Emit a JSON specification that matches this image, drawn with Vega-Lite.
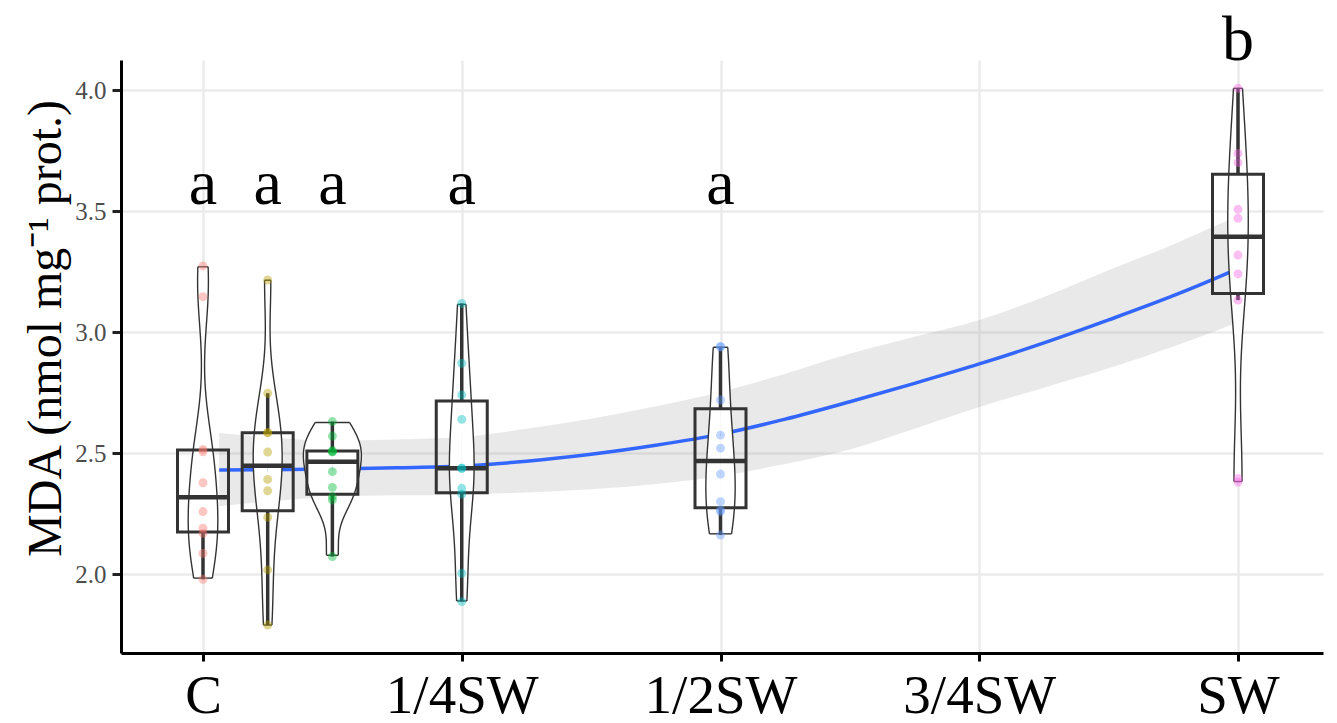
{
  "$schema": "https://vega.github.io/schema/vega-lite/v6.json",
  "width": 1202,
  "height": 593,
  "autosize": {"type": "none"},
  "padding": {"left": 121, "top": 60, "right": 14, "bottom": 70},
  "background": "white",
  "config": {"view": {"stroke": null}, "font": "Liberation Serif"},
  "datasets": {
    "obs": [
      {"pos": 0, "mda": 1.978}, {"pos": 0, "mda": 2.085}, {"pos": 0, "mda": 2.168}, {"pos": 0, "mda": 2.189}, {"pos": 0, "mda": 2.258},
      {"pos": 0, "mda": 2.377}, {"pos": 0, "mda": 2.505}, {"pos": 0, "mda": 2.515}, {"pos": 0, "mda": 3.146}, {"pos": 0, "mda": 3.273},
      {"pos": 4, "mda": 1.789}, {"pos": 4, "mda": 2.017}, {"pos": 4, "mda": 2.234}, {"pos": 4, "mda": 2.344}, {"pos": 4, "mda": 2.391},
      {"pos": 4, "mda": 2.504}, {"pos": 4, "mda": 2.584}, {"pos": 4, "mda": 2.584}, {"pos": 4, "mda": 2.747}, {"pos": 4, "mda": 3.215},
      {"pos": 8, "mda": 2.072}, {"pos": 8, "mda": 2.306}, {"pos": 8, "mda": 2.320}, {"pos": 8, "mda": 2.358}, {"pos": 8, "mda": 2.423},
      {"pos": 8, "mda": 2.505}, {"pos": 8, "mda": 2.505}, {"pos": 8, "mda": 2.510}, {"pos": 8, "mda": 2.570}, {"pos": 8, "mda": 2.630},
      {"pos": 16, "mda": 1.886}, {"pos": 16, "mda": 2.003}, {"pos": 16, "mda": 2.330}, {"pos": 16, "mda": 2.354}, {"pos": 16, "mda": 2.437},
      {"pos": 16, "mda": 2.437}, {"pos": 16, "mda": 2.639}, {"pos": 16, "mda": 2.740}, {"pos": 16, "mda": 2.871}, {"pos": 16, "mda": 3.118},
      {"pos": 32, "mda": 2.161}, {"pos": 32, "mda": 2.258}, {"pos": 32, "mda": 2.265}, {"pos": 32, "mda": 2.299}, {"pos": 32, "mda": 2.413},
      {"pos": 32, "mda": 2.520}, {"pos": 32, "mda": 2.574}, {"pos": 32, "mda": 2.719}, {"pos": 32, "mda": 2.939}, {"pos": 32, "mda": 2.939},
      {"pos": 64, "mda": 2.380}, {"pos": 64, "mda": 2.395}, {"pos": 64, "mda": 3.132}, {"pos": 64, "mda": 3.240}, {"pos": 64, "mda": 3.318},
      {"pos": 64, "mda": 3.470}, {"pos": 64, "mda": 3.507}, {"pos": 64, "mda": 3.700}, {"pos": 64, "mda": 3.738}, {"pos": 64, "mda": 4.007}
    ],
    "smooth": [
      {"pos": 1, "fit": 2.430, "lo": 2.280, "hi": 2.583},
      {"pos": 4, "fit": 2.431, "lo": 2.300, "hi": 2.565},
      {"pos": 8, "fit": 2.434, "lo": 2.318, "hi": 2.552},
      {"pos": 12, "fit": 2.439, "lo": 2.325, "hi": 2.556},
      {"pos": 16, "fit": 2.446, "lo": 2.328, "hi": 2.566},
      {"pos": 20, "fit": 2.466, "lo": 2.337, "hi": 2.600},
      {"pos": 24, "fit": 2.495, "lo": 2.350, "hi": 2.642},
      {"pos": 28, "fit": 2.532, "lo": 2.372, "hi": 2.693},
      {"pos": 32, "fit": 2.578, "lo": 2.405, "hi": 2.752},
      {"pos": 36, "fit": 2.640, "lo": 2.455, "hi": 2.828},
      {"pos": 40, "fit": 2.712, "lo": 2.515, "hi": 2.910},
      {"pos": 44, "fit": 2.788, "lo": 2.600, "hi": 2.980},
      {"pos": 48, "fit": 2.868, "lo": 2.690, "hi": 3.050},
      {"pos": 52, "fit": 2.955, "lo": 2.770, "hi": 3.145},
      {"pos": 56, "fit": 3.050, "lo": 2.850, "hi": 3.255},
      {"pos": 60, "fit": 3.150, "lo": 2.940, "hi": 3.362},
      {"pos": 63, "fit": 3.233, "lo": 3.015, "hi": 3.450},
      {"pos": 64, "fit": 3.262, "lo": 3.040, "hi": 3.478}
    ],
    "letters": [
      {"pos": 0, "y": 3.53, "lab": "a"},
      {"pos": 4, "y": 3.53, "lab": "a"},
      {"pos": 8, "y": 3.53, "lab": "a"},
      {"pos": 16, "y": 3.53, "lab": "a"},
      {"pos": 32, "y": 3.53, "lab": "a"},
      {"pos": 64, "y": 4.124, "lab": "b"}
    ]
  },
  "resolve": {"scale": {"xOffset": "independent", "size": "independent"}},
  "layer": [
    {
      "data": {"name": "smooth"},
      "mark": {"type": "area", "color": "#999999", "opacity": 0.22, "interpolate": "monotone"},
      "encoding": {
        "x": {"field": "pos", "type": "ordinal", "title": null,
          "scale": {"type": "point", "domain": [-5,-4,-3,-2,-1,0,1,2,3,4,5,6,7,8,9,10,11,12,13,14,15,16,17,18,19,20,21,22,23,24,25,26,27,28,29,30,31,32,33,34,35,36,37,38,39,40,41,42,43,44,45,46,47,48,49,50,51,52,53,54,55,56,57,58,59,60,61,62,63,64,65,66,67,68,69], "padding": 0.163, "align": 0.216},
          "axis": {"values": [0, 16, 32, 48, 64],
            "labelExpr": "datum.value == 0 ? 'C' : datum.value == 16 ? '1/4SW' : datum.value == 32 ? '1/2SW' : datum.value == 48 ? '3/4SW' : 'SW'",
            "title": null, "grid": true, "gridColor": "#EBEBEB", "gridWidth": 2.5, "labelAngle": 0,
            "domainColor": "#000000", "domainWidth": 3, "tickColor": "#000000", "tickWidth": 3, "tickSize": 8,
            "labelFont": "Liberation Serif", "labelFontSize": 55, "labelColor": "#000000", "labelPadding": 8,
            "labelFlush": false, "labelOverlap": false}},
        "y": {"field": "lo", "type": "quantitative", "title": "MDA (nmol mg⁻¹ prot.)",
          "scale": {"domain": [1.6736, 4.124], "nice": false, "zero": false},
          "axis": {"values": [2, 2.5, 3, 3.5, 4], "format": ".1f",
            "title": "MDA (nmol mg⁻¹ prot.)", "grid": true, "gridColor": "#EBEBEB", "gridWidth": 2.5,
            "domainColor": "#000000", "domainWidth": 3, "tickColor": "#222222", "tickWidth": 3, "tickSize": 9,
            "labelFont": "Liberation Serif", "labelFontSize": 25, "labelColor": "#4D4D4D", "labelPadding": 6,
            "labelFlush": false,
            "titleFont": "Liberation Serif", "titleFontSize": 48, "titleFontWeight": "normal", "titleColor": "#000000",
            "titleX": -61, "titleY": 268, "titleAngle": 270, "titleAlign": "center", "titleBaseline": "alphabetic"}},
        "y2": {"field": "hi"}
      }
    },
    {
      "data": {"name": "smooth"},
      "mark": {"type": "line", "color": "#3366FF", "strokeWidth": 3.5, "interpolate": "monotone"},
      "encoding": {
        "x": {"field": "pos", "type": "ordinal", "title": null},
        "y": {"field": "fit", "type": "quantitative", "title": "MDA (nmol mg⁻¹ prot.)"}
      }
    },
    {
      "data": {"name": "obs"},
      "transform": [
        {"joinaggregate": [{"op": "min", "field": "mda", "as": "vmin"}, {"op": "max", "field": "mda", "as": "vmax"}], "groupby": ["pos"]},
        {"density": "mda", "groupby": ["pos", "vmin", "vmax"], "steps": 400, "as": ["v", "density"]},
        {"filter": "datum.v >= datum.vmin && datum.v <= datum.vmax"}
      ],
      "mark": {"type": "area", "orient": "horizontal", "fill": "white"},
      "encoding": {
        "x": {"field": "pos", "type": "ordinal", "title": null},
        "x2": {"field": "pos"},
        "xOffset": {"field": "density", "type": "quantitative", "scale": {"range": [0, 29], "zero": true, "nice": false}},
        "y": {"field": "v", "type": "quantitative", "stack": null, "title": "MDA (nmol mg⁻¹ prot.)"},
        "detail": {"field": "pos"}
      }
    },
    {
      "data": {"name": "obs"},
      "transform": [
        {"joinaggregate": [{"op": "min", "field": "mda", "as": "vmin"}, {"op": "max", "field": "mda", "as": "vmax"}], "groupby": ["pos"]},
        {"density": "mda", "groupby": ["pos", "vmin", "vmax"], "steps": 400, "as": ["v", "density"]},
        {"filter": "datum.v >= datum.vmin && datum.v <= datum.vmax"}
      ],
      "mark": {"type": "area", "orient": "horizontal", "fill": "white"},
      "encoding": {
        "x": {"field": "pos", "type": "ordinal", "title": null},
        "x2": {"field": "pos"},
        "xOffset": {"field": "density", "type": "quantitative", "scale": {"range": [0, -29], "zero": true, "nice": false}},
        "y": {"field": "v", "type": "quantitative", "stack": null, "title": "MDA (nmol mg⁻¹ prot.)"},
        "detail": {"field": "pos"}
      }
    },
    {
      "data": {"name": "obs"},
      "transform": [
        {"joinaggregate": [{"op": "min", "field": "mda", "as": "vmin"}, {"op": "max", "field": "mda", "as": "vmax"}], "groupby": ["pos"]},
        {"density": "mda", "groupby": ["pos", "vmin", "vmax"], "steps": 400, "as": ["v", "density"]},
        {"filter": "datum.v >= datum.vmin && datum.v <= datum.vmax"}
      ],
      "mark": {"type": "line", "color": "#333333", "strokeWidth": 1.4},
      "encoding": {
        "x": {"field": "pos", "type": "ordinal", "title": null},
        "xOffset": {"field": "density", "type": "quantitative", "scale": {"range": [0, 29], "zero": true, "nice": false}},
        "y": {"field": "v", "type": "quantitative", "title": "MDA (nmol mg⁻¹ prot.)"},
        "order": {"field": "v", "type": "quantitative"},
        "detail": {"field": "pos"}
      }
    },
    {
      "data": {"name": "obs"},
      "transform": [
        {"joinaggregate": [{"op": "min", "field": "mda", "as": "vmin"}, {"op": "max", "field": "mda", "as": "vmax"}], "groupby": ["pos"]},
        {"density": "mda", "groupby": ["pos", "vmin", "vmax"], "steps": 400, "as": ["v", "density"]},
        {"filter": "datum.v >= datum.vmin && datum.v <= datum.vmax"}
      ],
      "mark": {"type": "line", "color": "#333333", "strokeWidth": 1.4},
      "encoding": {
        "x": {"field": "pos", "type": "ordinal", "title": null},
        "xOffset": {"field": "density", "type": "quantitative", "scale": {"range": [0, -29], "zero": true, "nice": false}},
        "y": {"field": "v", "type": "quantitative", "title": "MDA (nmol mg⁻¹ prot.)"},
        "order": {"field": "v", "type": "quantitative"},
        "detail": {"field": "pos"}
      }
    },
    {
      "data": {"name": "obs"},
      "transform": [
        {"joinaggregate": [{"op": "min", "field": "mda", "as": "vmin"}, {"op": "max", "field": "mda", "as": "vmax"}], "groupby": ["pos"]},
        {"density": "mda", "groupby": ["pos", "vmin", "vmax"], "steps": 400, "as": ["v", "density"]},
        {"filter": "datum.v >= datum.vmin && datum.v <= datum.vmax"},
        {"joinaggregate": [{"op": "min", "field": "v", "as": "smin"}, {"op": "max", "field": "v", "as": "smax"}], "groupby": ["pos"]},
        {"joinaggregate": [{"op": "max", "field": "density", "as": "dmax"}]},
        {"filter": "datum.v == datum.smin || datum.v == datum.smax || datum.density == datum.dmax"}
      ],
      "mark": {"type": "tick", "orient": "horizontal", "thickness": 1.4, "color": "#333333"},
      "encoding": {
        "x": {"field": "pos", "type": "ordinal", "title": null},
        "y": {"field": "v", "type": "quantitative", "title": "MDA (nmol mg⁻¹ prot.)"},
        "size": {"field": "density", "type": "quantitative", "scale": {"range": [0, 58], "zero": true, "nice": false}, "legend": null},
        "opacity": {"condition": {"test": "datum.v == datum.smin || datum.v == datum.smax", "value": 1}, "value": 0}
      }
    },
    {
      "data": {"name": "obs"},
      "mark": {"type": "boxplot", "extent": 1.5, "size": 51, "outliers": false, "ticks": false,
        "box": {"fill": "transparent", "stroke": "#333333", "strokeWidth": 3},
        "median": {"color": "#333333", "thickness": 4.5, "opacity": 1},
        "rule": {"color": "#333333", "strokeWidth": 3.5}},
      "encoding": {
        "x": {"field": "pos", "type": "ordinal", "title": null},
        "y": {"field": "mda", "type": "quantitative", "title": "MDA (nmol mg⁻¹ prot.)"}
      }
    },
    {
      "data": {"name": "obs"},
      "mark": {"type": "circle", "size": 80, "opacity": 0.42},
      "encoding": {
        "x": {"field": "pos", "type": "ordinal", "title": null},
        "y": {"field": "mda", "type": "quantitative", "title": "MDA (nmol mg⁻¹ prot.)"},
        "color": {"field": "pos", "type": "nominal", "legend": null,
          "scale": {"domain": [0, 4, 8, 16, 32, 64], "range": ["#F8766D", "#B79F00", "#00BA38", "#00BFC4", "#619CFF", "#F564E3"]}}
      }
    },
    {
      "data": {"name": "letters"},
      "mark": {"type": "text", "font": "Liberation Serif", "fontSize": 64, "baseline": "alphabetic", "align": "center", "color": "#000000"},
      "encoding": {
        "x": {"field": "pos", "type": "ordinal", "title": null},
        "y": {"field": "y", "type": "quantitative", "title": "MDA (nmol mg⁻¹ prot.)"},
        "text": {"field": "lab"}
      }
    }
  ]
}
